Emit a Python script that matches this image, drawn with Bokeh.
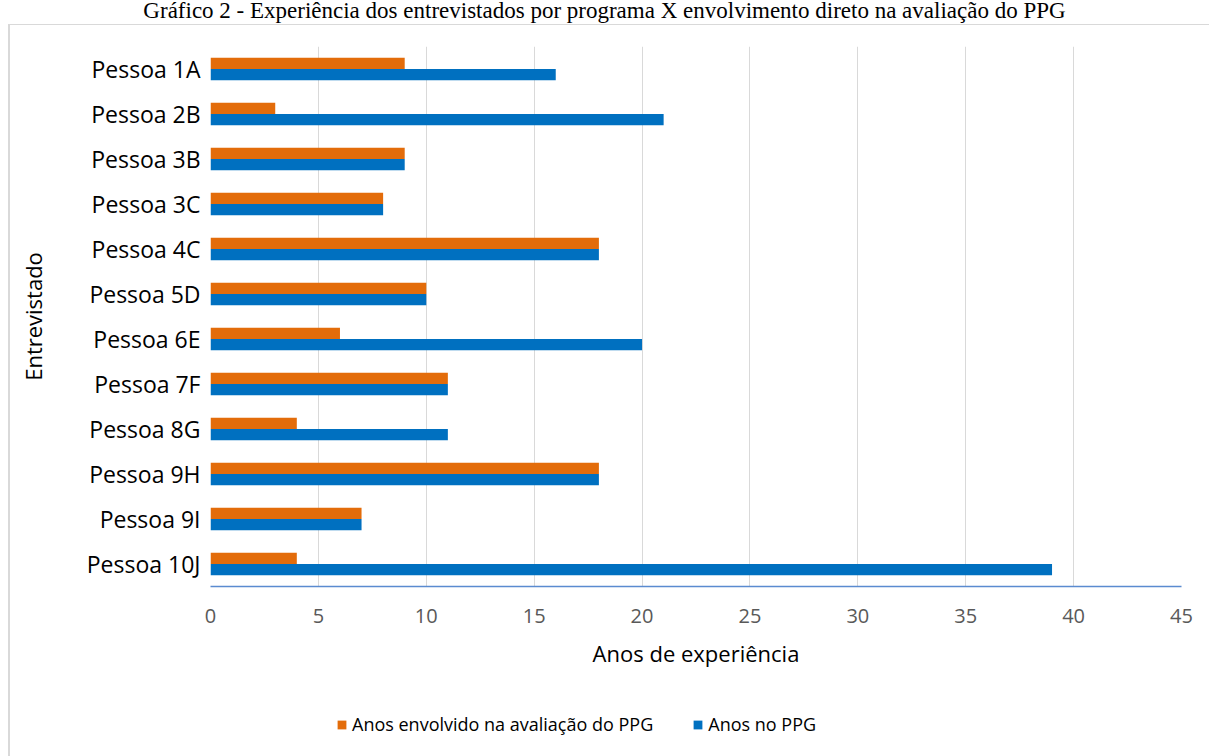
from bokeh.plotting import figure
from bokeh.models import (FactorRange, Range1d, Legend, LegendItem, FixedTicker,
                          ColumnDataSource, InlineStyleSheet, Div)
from bokeh.layouts import column
from bokeh.transform import dodge
from bokeh.embed import file_html
from bokeh.resources import INLINE

title_text = "Gráfico 2 - Experiência dos entrevistados por programa X envolvimento direto na avaliação do PPG"
people = ["Pessoa 1A", "Pessoa 2B", "Pessoa 3B", "Pessoa 3C", "Pessoa 4C", "Pessoa 5D",
          "Pessoa 6E", "Pessoa 7F", "Pessoa 8G", "Pessoa 9H", "Pessoa 9I", "Pessoa 10J"]
anos_avaliacao = [9, 3, 9, 8, 18, 10, 6, 11, 4, 18, 7, 4]
anos_ppg = [16, 21, 9, 8, 18, 10, 20, 11, 11, 18, 7, 39]
series_names = ["Anos envolvido na avaliação do PPG", "Anos no PPG"]
x_ticks = [0, 5, 10, 15, 20, 25, 30, 35, 40, 45]

ORANGE = "#E36C0A"
BLUE = "#0070C0"
FONT = "Open Sans"

src = ColumnDataSource(dict(person=people, aval=anos_avaliacao, ppg=anos_ppg))

W = 1209
TITLE_H = 24
MAIN_H = 690 - TITLE_H
LEG_H = 756 - 690

title_div = Div(text=title_text, width=W, height=TITLE_H, margin=(0, 0, 0, 0),
                styles={"font-family": "'Liberation Serif', 'Times New Roman', serif",
                        "font-size": "23px", "line-height": "22px", "text-align": "center",
                        "white-space": "nowrap", "color": "#000000"})

p = figure(width=W, height=MAIN_H, output_backend="svg", toolbar_location=None,
           y_range=FactorRange(factors=list(reversed(people))),
           x_range=Range1d(0, 45),
           min_border_left=210, min_border_right=28,
           min_border_top=46 - TITLE_H, min_border_bottom=690 - 586)
p.margin = (0, 0, 0, 0)
p.outline_line_color = None

r1 = p.hbar(y=dodge("person", 0.125, range=p.y_range), right="aval", left=0, height=0.25,
            source=src, fill_color=ORANGE, line_color=None)
r2 = p.hbar(y=dodge("person", -0.125, range=p.y_range), right="ppg", left=0, height=0.25,
            source=src, fill_color=BLUE, line_color=None)

p.ygrid.grid_line_color = None
p.xgrid.grid_line_color = "#D9D9D9"
p.xgrid.grid_line_width = 1
p.xaxis.ticker = FixedTicker(ticks=x_ticks)

xa = p.xaxis[0]
xa.axis_line_color = "#5B8BD0"
xa.axis_line_width = 1.5
xa.major_tick_line_color = None
xa.minor_tick_line_color = None
xa.major_tick_out = 0
xa.major_tick_in = 0
xa.major_label_standoff = 22
xa.major_label_text_font = FONT
xa.major_label_text_font_size = "20px"
xa.major_label_text_color = "#595959"
xa.axis_label = "Anos de experiência"
xa.axis_label_text_font = FONT
xa.axis_label_text_font_size = "22px"
xa.axis_label_text_font_style = "normal"
xa.axis_label_text_color = "#000000"
xa.axis_label_standoff = 12

ya = p.yaxis[0]
ya.axis_line_color = None
ya.major_tick_line_color = None
ya.minor_tick_line_color = None
ya.major_tick_out = 0
ya.major_tick_in = 0
ya.major_label_standoff = 10
ya.major_label_text_font = FONT
ya.major_label_text_font_size = "23px"
ya.major_label_text_color = "#000000"
ya.axis_label = "Entrevistado"
ya.axis_label_text_font = FONT
ya.axis_label_text_font_size = "22px"
ya.axis_label_text_font_style = "normal"
ya.axis_label_text_color = "#000000"
ya.axis_label_standoff = 36

p.stylesheets = [InlineStyleSheet(css=""":host { position: relative; }
:host::after { content: ""; position: absolute; left: 8px; top: 0px; right: -10px; bottom: 0px;
  border-top: 1px solid #D9D9D9; border-left: 2px solid #D9D9D9; pointer-events: none; }""")]

# legend strip below the chart (its frame aligns with the main frame, x from 210)
lp = figure(width=W, height=LEG_H, output_backend="svg", toolbar_location=None,
            x_range=Range1d(100, 101), y_range=FactorRange(factors=list(reversed(people))),
            min_border_left=0, min_border_right=0, min_border_top=0, min_border_bottom=0,
            x_axis_location=None, y_axis_location=None)
lp.margin = (0, 0, 0, 0)
lp.outline_line_color = None
lp.grid.visible = False
k1 = lp.hbar(y="person", right="aval", left=0, height=0, source=src,
             fill_color=ORANGE, line_color=None)
k2 = lp.hbar(y="person", right="ppg", left=0, height=0, source=src,
             fill_color=BLUE, line_color=None)
legend = Legend(items=[LegendItem(label=series_names[0], renderers=[k1]),
                       LegendItem(label=series_names[1], renderers=[k2])],
                orientation="horizontal", location=(126, 20),
                label_text_font=FONT, label_text_font_size="18px", label_text_color="#000000",
                glyph_width=11, glyph_height=11, spacing=39, label_standoff=5,
                background_fill_alpha=0, border_line_color=None, padding=5, margin=0)
lp.add_layout(legend, "center")
lp.stylesheets = [InlineStyleSheet(css=""":host { position: relative; }
:host::after { content: ""; position: absolute; left: 8px; top: 0px; bottom: 0px; width: 0px;
  border-left: 2px solid #D9D9D9; pointer-events: none; }""")]

layout = column(title_div, p, lp, spacing=0)
open("out.html", "w").write(file_html(layout, INLINE))
